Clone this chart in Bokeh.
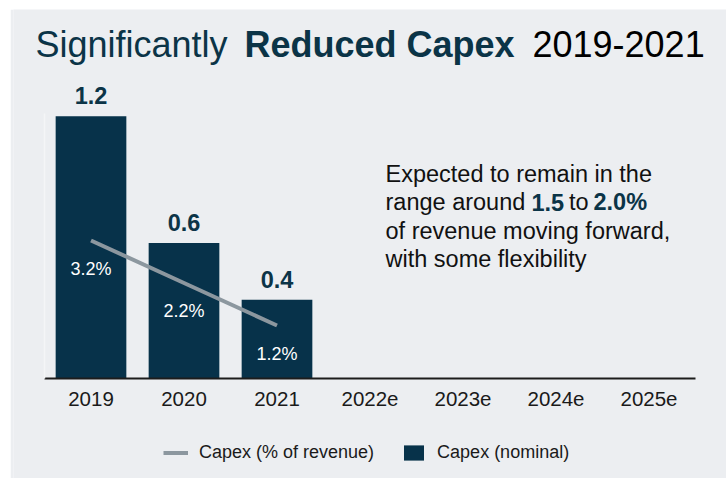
from bokeh.plotting import figure
from bokeh.models import (Range1d, FactorRange, Label, LabelSet, ColumnDataSource,
                          Legend, LegendItem, Spacer)
from bokeh.layouts import column, row
from bokeh.core.properties import value
from bokeh.embed import file_html
from bokeh.resources import INLINE

years = ["2019", "2020", "2021", "2022e", "2023e", "2024e", "2025e"]
capex_years = ["2019", "2020", "2021"]
capex_nominal = [1.2, 0.62, 0.36]
capex_pct = [3.2, 2.2, 1.2]

FONT = "Liberation Sans"
TEAL = "#07324a"
TEXT_TEAL = "#0b3447"
BG = "#eceef1"
GRAY_LINE = "#8c979f"

p = figure(width=716, height=469, title=None,
           x_range=FactorRange(*years, range_padding=1/3, range_padding_units="absolute"),
           y_range=Range1d(-0.4575, 1.688), output_backend="svg", toolbar_location=None,
           min_border_left=3, min_border_right=0, min_border_top=0, min_border_bottom=0)
p.extra_y_ranges = {"pct": Range1d(-2.4, 8.635)}
p.background_fill_color = BG
p.border_fill_color = BG
p.outline_line_color = None
p.xgrid.visible = False
p.ygrid.visible = False

ya = p.yaxis[0]
ya.fixed_location = 0
ya.bounds = (0, 1.212)
ya.axis_line_color = "#f4f5f7"
ya.axis_line_width = 1.5
ya.major_tick_line_color = None
ya.minor_tick_line_color = None
ya.major_label_text_color = None

xa = p.xaxis[0]
xa.fixed_location = 0
xa.bounds = (0, 7)
xa.axis_line_color = "#1c1c1c"
xa.axis_line_width = 2
xa.major_tick_line_color = None
xa.minor_tick_line_color = None
xa.major_tick_out = 0
xa.major_label_standoff = 14
xa.major_label_text_font = FONT
xa.major_label_text_font_size = "20.5px"
xa.major_label_text_color = "#1a1a1a"

bar_src = ColumnDataSource(dict(x=capex_years, top=capex_nominal,
                                label=[f"{v:.1f}" for v in capex_nominal]))
bars = p.vbar(x="x", top="top", width=0.76, source=bar_src, fill_color=TEAL, line_color=None)

line = p.line(x=capex_years, y=capex_pct, y_range_name="pct", line_width=4, line_color=GRAY_LINE)

p.text(x=capex_years, y=capex_pct, text=[f"{v:.1f}%" for v in capex_pct], y_range_name="pct",
       text_align="center", text_baseline="alphabetic", y_offset=28.5,
       text_color="white", text_font_size="18px", text_font=value(FONT))

p.add_layout(LabelSet(x="x", y="top", text="label", source=bar_src, text_align="center",
                      text_baseline="alphabetic", y_offset=12, text_font=value(FONT),
                      text_font_size="23.5px", text_font_style="bold", text_color=TEXT_TEAL))

def lab(x, y, text, size, color, bold=False):
    p.add_layout(Label(x=x, y=y, x_units="screen", y_units="screen", text=text,
                       text_font=FONT, text_font_size=size, text_color=color,
                       text_baseline="alphabetic", text_align="left",
                       text_font_style="bold" if bold else "normal"))

# title
lab(22, 434.5, "Significantly", "36px", TEXT_TEAL)
lab(231, 434.5, "Reduced Capex", "36px", TEXT_TEAL, bold=True)
lab(519, 434.5, "2019-2021", "36px", "#000000")

# annotation
lab(372, 304.7, "Expected to remain in the", "23.5px", "#111111")
lab(372, 276.3, "range around", "23.5px", "#111111")
lab(518, 276.3, "1.5", "23.5px", TEXT_TEAL, bold=True)
lab(555.5, 276.3, "to", "23.5px", "#111111")
lab(580, 276.3, "2.0%", "23.5px", TEXT_TEAL, bold=True)
lab(372, 247.5, "of revenue moving forward,", "23.5px", "#111111")
lab(372, 219.2, "with some flexibility", "23.5px", "#111111")

legend = Legend(items=[LegendItem(label="Capex (% of revenue)", renderers=[line]),
                       LegendItem(label="Capex (nominal)", renderers=[bars])],
                orientation="horizontal", location=(150, 15), padding=0, margin=0,
                glyph_width=25, glyph_height=19, label_height=19, label_standoff=11, spacing=27,
                label_text_font=FONT, label_text_font_size="18px", label_text_color="#1a1a1a",
                background_fill_alpha=0, border_line_color=None)
p.add_layout(legend)

layout = column(Spacer(height=9), row(Spacer(width=10), p))
open("out.html", "w").write(file_html(layout, INLINE))
